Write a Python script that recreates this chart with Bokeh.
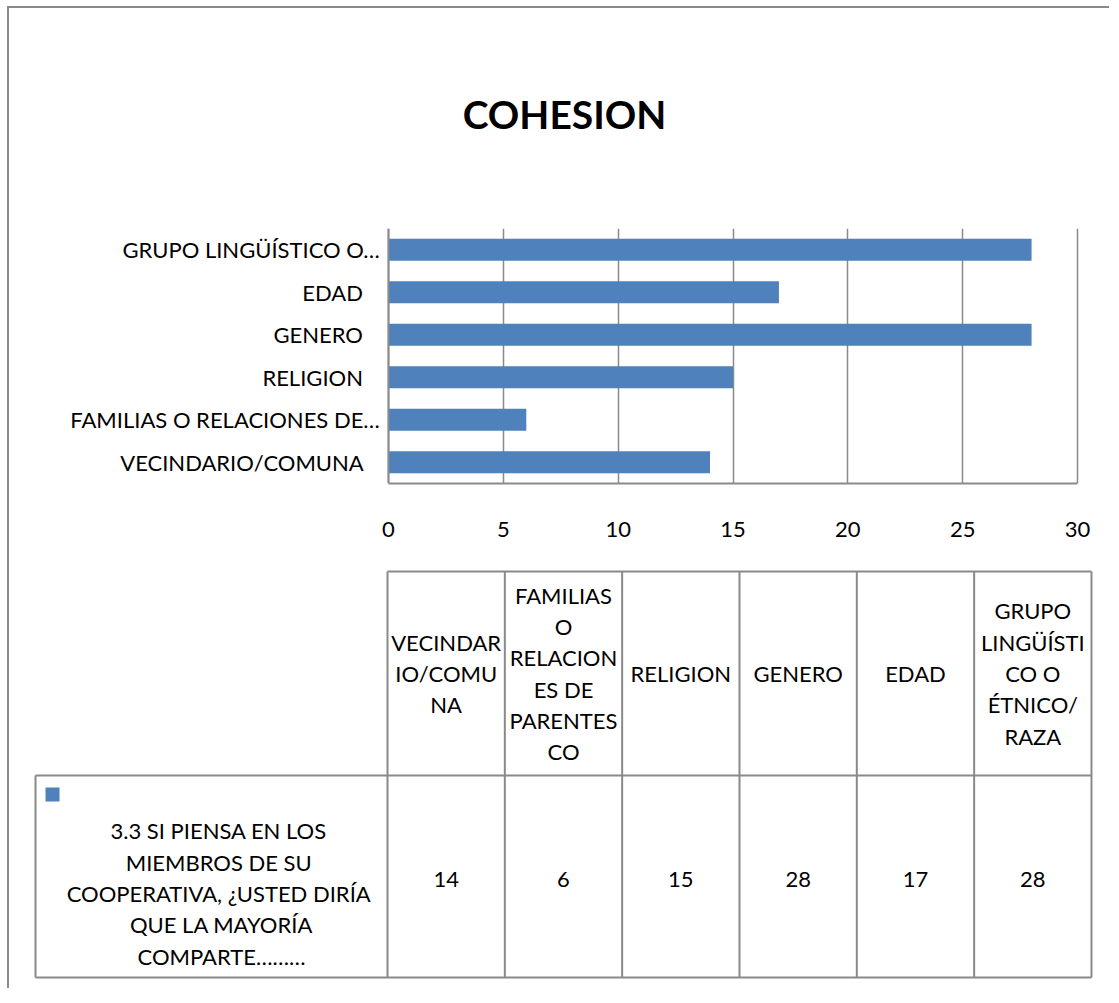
from bokeh.plotting import figure
from bokeh.models import Range1d, FactorRange, FixedTicker, ColumnDataSource
from bokeh.layouts import column
from bokeh.embed import file_html
from bokeh.resources import INLINE
from bokeh.core.properties import value

# ---------------- data ----------------
title_text = "COHESION"
categories = ["VECINDARIO/COMUNA", "FAMILIAS O RELACIONES DE PARENTESCO", "RELIGION",
              "GENERO", "EDAD", "GRUPO LINGÜÍSTICO O ÉTNICO/RAZA"]
values = [14, 6, 15, 28, 17, 28]
NB = "\u00a0" * 4   # trailing blanks carried by the untruncated axis labels
axis_labels = ["VECINDARIO/COMUNA" + NB, "FAMILIAS O RELACIONES  DE…", "RELIGION" + NB,
               "GENERO" + NB, "EDAD" + NB, "GRUPO LINGÜÍSTICO  O…"]
header_labels = ["VECINDAR\nIO/COMU\nNA",
                 "FAMILIAS\nO\nRELACION\nES DE\nPARENTES\nCO",
                 "RELIGION", "GENERO", "EDAD",
                 "GRUPO\nLINGÜÍSTI\nCO O\nÉTNICO/\nRAZA"]
series_label = "3.3 SI PIENSA  EN LOS\nMIEMBROS  DE SU\nCOOPERATIVA, ¿USTED  DIRÍA\nQUE LA MAYORÍA\nCOMPARTE………"
x_ticks = [0, 5, 10, 15, 20, 25, 30]

# ---------------- styles ----------------
FONT = "Lato"
FS = "22px"
BAR = "#4F81BD"
GRAY = "#8a8a8a"
TXT = "#000000"
W = 1100
H0, H1, H2 = 220, 340, 420

# pixel geometry of the bar area inside the chart canvas
AX0 = 379          # canvas x of value 0
AXW = 689          # canvas width of 0..30
PX = AXW / (x_ticks[-1] - x_ticks[0])
BOTTOM = 85


def blank(h):
    f = figure(width=W, height=h, x_range=Range1d(0, W), y_range=Range1d(h, 0),
               output_backend="svg", toolbar_location=None,
               x_axis_type=None, y_axis_type=None,
               min_border=0, min_border_left=0, min_border_right=0,
               min_border_top=0, min_border_bottom=0)
    f.grid.visible = False
    f.outline_line_color = None
    return f


# ---------------- title strip ----------------
p0 = blank(H0)
p0.text(x=[555], y=[105], text=[title_text], text_align="center", text_baseline="middle",
        text_font=value(FONT), text_font_size="39px", text_font_style="bold", text_color=TXT)

# ---------------- bar chart ----------------
p1 = figure(width=W, height=H1,
            y_range=FactorRange(factors=axis_labels),
            x_range=Range1d(-AX0 / PX, (W - AX0) / PX),
            output_backend="svg", toolbar_location=None,
            min_border_left=0, min_border_right=0,
            min_border_top=0, min_border_bottom=BOTTOM)
p1.hbar(y=axis_labels, right=values, height=0.52, color=BAR, line_color=None)

p1.xaxis.ticker = FixedTicker(ticks=x_ticks)
p1.xaxis.bounds = (x_ticks[0], x_ticks[-1])
p1.xgrid.ticker = FixedTicker(ticks=x_ticks)
p1.ygrid.grid_line_color = None
p1.xgrid.grid_line_color = GRAY
p1.xgrid.grid_line_width = 1.5
p1.outline_line_color = None
p1.yaxis.fixed_location = 0
for ax in (p1.xaxis, p1.yaxis):
    ax.axis_line_color = GRAY
    ax.axis_line_width = 2
    ax.major_tick_line_color = None
    ax.minor_tick_line_color = None
    ax.major_label_text_font = FONT
    ax.major_label_text_font_size = FS
    ax.major_label_text_color = TXT
p1.yaxis.major_label_standoff = -3
p1.xaxis.major_label_standoff = 32

# ---------------- data table ----------------
p2 = blank(H2)

X0 = 378      # left edge of first value column
CW = 117.33   # column width
LX = 26       # left edge of series-label cell
HT, RT, RB = 3, 207, 409   # header top, row top, row bottom
n = len(categories)
XR = X0 + n * CW

xs = [[X0, XR], [LX, XR], [LX, XR], [LX, LX]]
ys = [[HT, HT], [RT, RT], [RB, RB], [RT, RB]]
for i in range(n + 1):
    xs.append([X0 + i * CW] * 2)
    ys.append([HT, RB])
p2.multi_line(xs=xs, ys=ys, line_color=GRAY, line_width=2)

centers = [X0 + (i + 0.5) * CW for i in range(n)]
src = ColumnDataSource(dict(x=centers, hy=[(HT + RT) / 2] * n, vy=[(RT + RB) / 2 + 3] * n,
                            h=header_labels, v=[str(v) for v in values]))
p2.text(x="x", y="hy", text="h", source=src, text_align="center", text_baseline="middle",
        text_font=value(FONT), text_font_size=FS, text_color=TXT, text_line_height=1.16)
p2.text(x="x", y="vy", text="v", source=src, text_align="center", text_baseline="middle",
        text_font=value(FONT), text_font_size=FS, text_color=TXT)
p2.text(x=[212], y=[325], text=[series_label], text_align="center", text_baseline="middle",
        text_font=value(FONT), text_font_size=FS, text_color=TXT, text_line_height=1.16)
p2.scatter(x=[43], y=[226], marker="square", size=14, fill_color=BAR, line_color=None)

layout = column(p0, p1, p2, spacing=0,
                styles={"border-left": "2px solid " + GRAY, "border-top": "2px solid " + GRAY,
                        "margin-left": "7px", "margin-top": "6px"})

open("out.html", "w").write(file_html(layout, INLINE))
